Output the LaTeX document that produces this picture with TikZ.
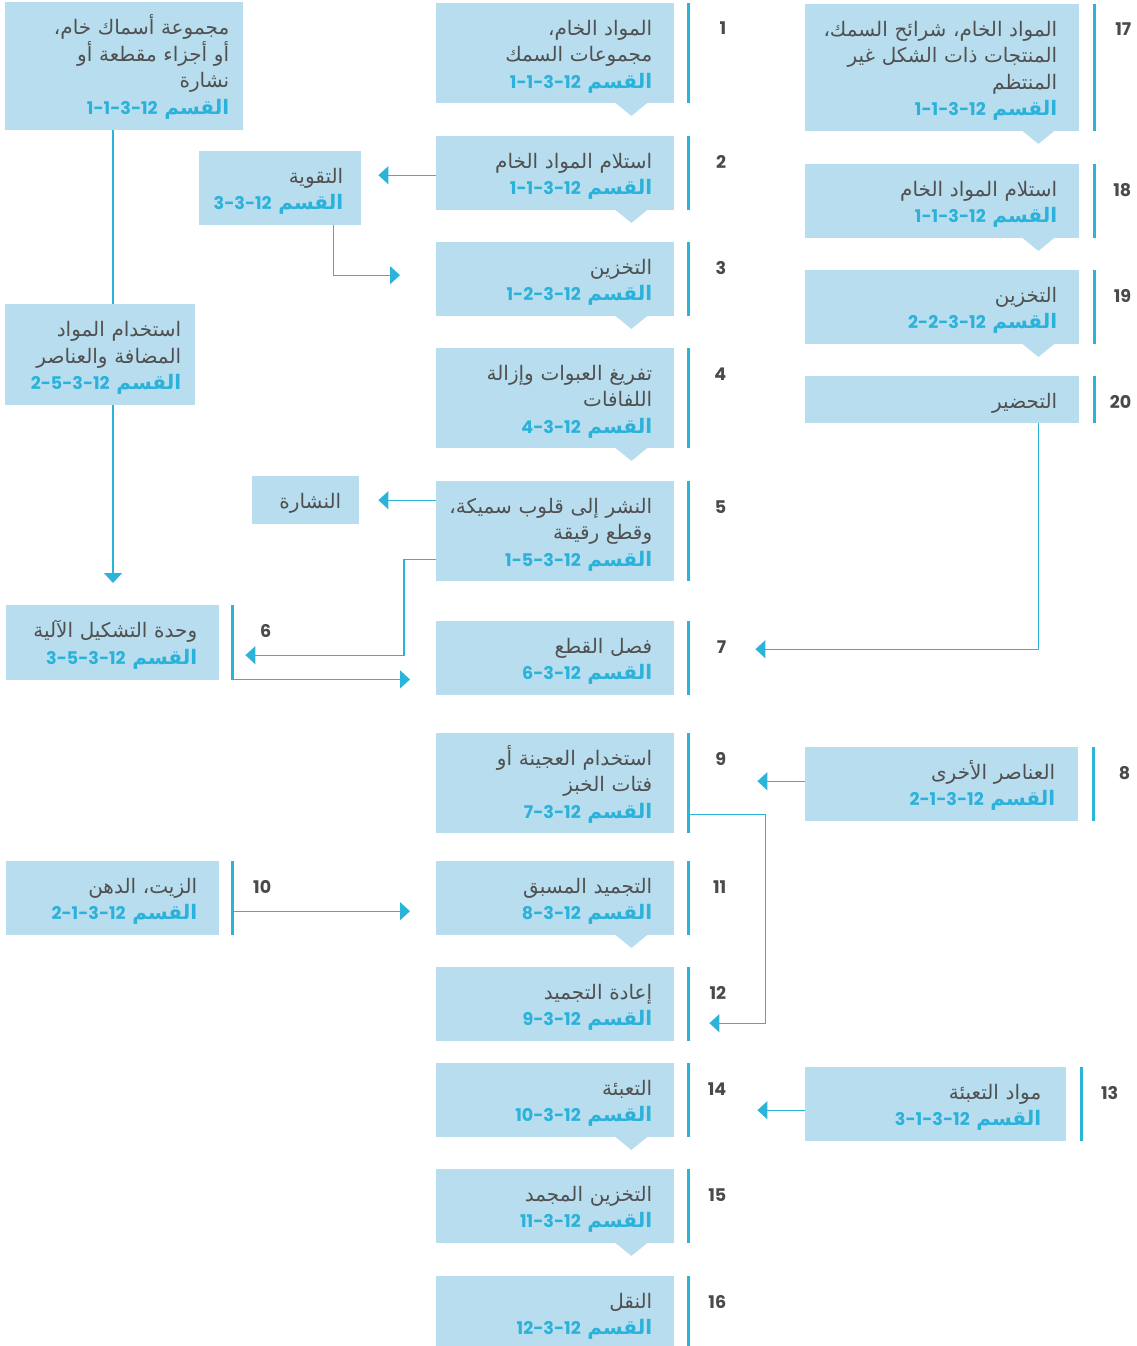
\documentclass[tikz,border=0pt]{standalone}
\usepackage{fontspec}
\usetikzlibrary{arrows.meta,calc}
\TeXXeTstate=1
\newfontfamily\arabicfont[Script=Arabic]{DejaVu Sans}
\newfontfamily\numfont{Poppins}
\definecolor{boxblue}{HTML}{B7DDEE}
\definecolor{linkblue}{HTML}{2CB3DA}
\definecolor{secblue}{HTML}{2BB2DA}
\definecolor{textgray}{HTML}{505050}
\definecolor{numgray}{HTML}{4A4A4A}
% fixed line strut so every box line sits on the same grid
\newcommand\linestrut{\rule[-2.5pt]{0pt}{24pt}}
% one right-to-left line of a box, flush with the right margin
\newcommand\rl[1]{\linestrut\makebox[0pt][r]{\beginR #1\endR}}
% the section reference line
\newcommand\qsm[1]{\linestrut\makebox[0pt][r]{\color{secblue}\bfseries\beginR القسم \beginL{\numfont\fontsize{17.5}{26.5}\selectfont #1}\endL\endR}}
% side bar and step number beside a box
\newcommand\tagbox[3]{%
  \draw[sidebar] ([xshift=#2]#1.north east) -- ([xshift=#2]#1.south east);
  \node[num] (n#3) at ([xshift=52pt,yshift=-32pt]#1.north east) {#3};}
% small pointer under a box
\newcommand\notch[2]{%
  \fill[boxblue] ([xshift=-#2-16pt,yshift=0.5pt]#1.south east) -- ++(32,0) -- ++(-16,13) -- cycle;}
\tikzset{
  box/.style={fill=boxblue, anchor=north west, inner sep=0pt, align=right,
    font=\arabicfont\fontsize{20}{26.5}\selectfont, text=textgray},
  cbox/.style={box, minimum width=238pt, text width=194pt},
  rbox/.style={box, minimum width=274pt, text width=230pt},
  num/.style={anchor=base east, inner sep=0pt, text=numgray,
    font=\numfont\bfseries\fontsize{17.5}{20}\selectfont},
  sidebar/.style={draw=linkblue, line width=3pt},
  link/.style={draw=linkblue, line width=1.4pt},
  tip/.style={-{Triangle[length=10pt,width=18pt]}}
}
\begin{document}
\begin{tikzpicture}[x=1pt,y=-1pt]
\useasboundingbox (0,0) rectangle (1136,1346);

% main column
\node[cbox, minimum height=100pt] (b1) at (436,3) {\rl{المواد الخام،}\\\rl{مجموعات السمك}\\\qsm{1-1-3-12}};
\node[cbox, minimum height=74pt] (b2) at (436,136) {\rl{استلام المواد الخام}\\\qsm{1-1-3-12}};
\node[cbox, minimum height=74pt] (b3) at (436,242) {\rl{التخزين}\\\qsm{1-2-3-12}};
\node[cbox, minimum height=100pt] (b4) at (436,348) {\rl{تفريغ العبوات وإزالة}\\\rl{اللفافات}\\\qsm{4-3-12}};
\node[cbox, minimum height=100pt] (b5) at (436,481) {\rl{النشر إلى قلوب سميكة،}\\\rl{وقطع رقيقة}\\\qsm{1-5-3-12}};
\node[cbox, minimum height=74pt] (b7) at (436,621) {\rl{فصل القطع}\\\qsm{6-3-12}};
\node[cbox, minimum height=100pt] (b9) at (436,733) {\rl{استخدام العجينة أو}\\\rl{فتات الخبز}\\\qsm{7-3-12}};
\node[cbox, minimum height=74pt] (b11) at (436,861) {\rl{التجميد المسبق}\\\qsm{8-3-12}};
\node[cbox, minimum height=74pt] (b12) at (436,967) {\rl{إعادة التجميد}\\\qsm{9-3-12}};
\node[cbox, minimum height=74pt] (b14) at (436,1063) {\rl{التعبئة}\\\qsm{10-3-12}};
\node[cbox, minimum height=74pt] (b15) at (436,1169) {\rl{التخزين المجمد}\\\qsm{11-3-12}};
\node[cbox, minimum height=74pt] (b16) at (436,1276) {\rl{النقل}\\\qsm{12-3-12}};

% right column
\node[rbox, minimum height=127pt] (b17) at (805,4) {\rl{المواد الخام، شرائح السمك،}\\\rl{المنتجات ذات الشكل غير}\\\rl{المنتظم}\\\qsm{1-1-3-12}};
\node[rbox, minimum height=74pt] (b18) at (805,164) {\rl{استلام المواد الخام}\\\qsm{1-1-3-12}};
\node[rbox, minimum height=74pt] (b19) at (805,270) {\rl{التخزين}\\\qsm{2-2-3-12}};
\node[rbox, minimum height=47pt] (b20) at (805,376) {\rl{التحضير}};
\node[box, minimum width=273pt, text width=227pt, minimum height=74pt] (b8) at (805,747) {\rl{العناصر الأخرى}\\\qsm{2-1-3-12}};
\node[box, minimum width=261pt, text width=211pt, minimum height=74pt] (b13) at (805,1067) {\rl{مواد التعبئة}\\\qsm{3-1-3-12}};

% left side
\node[box, minimum width=238pt, text width=210pt, minimum height=128pt] (btl) at (5,2) {\rl{مجموعة أسماك خام،}\\\rl{أو أجزاء مقطعة أو}\\\rl{نشارة}\\\qsm{1-1-3-12}};
\node[box, minimum width=162pt, text width=126pt, minimum height=74pt] (btq) at (199,151) {\rl{التقوية}\\\qsm{3-3-12}};
\node[box, minimum width=190pt, text width=162pt, minimum height=101pt] (badd) at (5,304) {\rl{استخدام المواد}\\\rl{المضافة والعناصر}\\\qsm{2-5-3-12}};
\node[box, minimum width=107pt, text width=71pt, minimum height=48pt] (bns) at (252,476) {\rl{النشارة}};
\node[box, minimum width=213pt, text width=169pt, minimum height=75pt] (b6) at (6,605) {\rl{وحدة التشكيل الآلية}\\\qsm{3-5-3-12}};
\node[box, minimum width=213pt, text width=169pt, minimum height=74pt] (b10) at (6,861) {\rl{الزيت، الدهن}\\\qsm{2-1-3-12}};

% pointers under boxes
\notch{b1}{43pt}\notch{b2}{43pt}\notch{b3}{43pt}\notch{b4}{43pt}
\notch{b11}{43pt}\notch{b14}{43pt}\notch{b15}{43pt}
\notch{b17}{41pt}\notch{b18}{41pt}\notch{b19}{41pt}

% side bars and step numbers
\tagbox{b1}{14pt}{1}\tagbox{b2}{14pt}{2}\tagbox{b3}{14pt}{3}\tagbox{b4}{14pt}{4}
\tagbox{b5}{14pt}{5}\tagbox{b7}{14pt}{7}\tagbox{b9}{14pt}{9}\tagbox{b11}{14pt}{11}
\tagbox{b12}{14pt}{12}\tagbox{b14}{14pt}{14}\tagbox{b15}{14pt}{15}\tagbox{b16}{14pt}{16}
\tagbox{b17}{15pt}{17}\tagbox{b18}{15pt}{18}\tagbox{b19}{15pt}{19}\tagbox{b20}{15pt}{20}
\tagbox{b8}{15pt}{8}\tagbox{b13}{15pt}{13}
\tagbox{b6}{13pt}{6}\tagbox{b10}{13pt}{10}

% connectors
\coordinate (xl) at (113,0);
\draw[link] (btl.south -| xl) -- (badd.north -| xl);
\draw[link,tip,shorten >=22pt] (badd.south -| xl) -- (xl |- b6.north);

\coordinate (s2) at ([yshift=-2pt]b2.west);
\draw[link,tip,shorten >=17pt] (s2) -- (s2 -| btq.east);

\coordinate (s3) at ([xshift=-28pt]btq.south east);
\coordinate (e3) at ([yshift=4pt]b3.west);
\draw[link,tip,shorten >=36pt] (s3) |- (e3);

\draw[link,tip,shorten >=19pt] (b5.west |- bns.east) -- (bns.east);

\coordinate (s5) at ([yshift=-28pt]b5.west);
\coordinate (e5) at ([xshift=26pt,yshift=-12.5pt]b6.east);
\draw[link,tip] (s5) -- ++(-32,0) |- (e5);

\coordinate (s6) at ([xshift=13pt,yshift=1pt]b6.south east);
\draw[link,tip,shorten >=26pt] (s6) -- (s6 -| b7.west);

\coordinate (s7) at ([xshift=-41pt]b20.south east);
\coordinate (e7) at ([xshift=81pt,yshift=9pt]b7.east);
\draw[link,tip] (s7) |- (e7);

\coordinate (s8) at ([yshift=3pt]b8.west);
\coordinate (e8) at ([xshift=83pt,yshift=2pt]b9.east);
\draw[link,tip] (s8) -- (e8);

\coordinate (s9) at ([xshift=15pt,yshift=-31pt]b9.east);
\coordinate (k9) at ([xshift=91pt,yshift=-19pt]b12.east);
\coordinate (e9) at ([xshift=35pt,yshift=-19pt]b12.east);
\draw[link,tip] (s9) -| (k9) -- (e9);

\coordinate (s10) at ([xshift=13pt,yshift=-13pt]b10.east);
\draw[link,tip,shorten >=26pt] (s10) -- (s10 -| b11.west);

\coordinate (s13) at ([yshift=-6pt]b13.west);
\coordinate (e13) at ([xshift=83pt,yshift=-10pt]b14.east);
\draw[link,tip] (s13) -- (e13);
\end{tikzpicture}
\end{document}
